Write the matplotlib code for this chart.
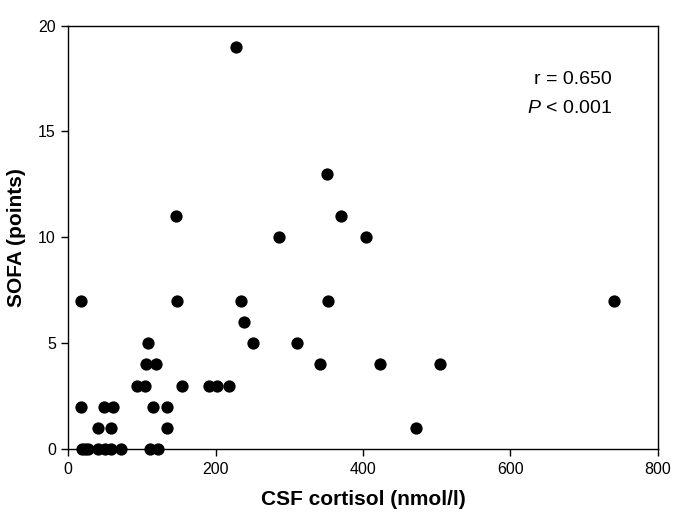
import matplotlib.pyplot as plt

plt.rcParams['font.family'] = ['Liberation Sans', 'DejaVu Sans']
plt.rcParams['mathtext.fontset'] = 'custom'
plt.rcParams['mathtext.it'] = 'Liberation Sans:italic'
plt.rcParams['mathtext.rm'] = 'Liberation Sans'

# CSF cortisol (nmol/l) vs SOFA score
cortisol = [18, 22, 27, 40, 50, 58, 72, 111, 122,
            40, 58, 134, 472,
            17, 48, 61, 115, 134,
            93, 104, 154, 191, 202, 218,
            105, 119, 341, 423, 505,
            108, 251, 311,
            239,
            17, 147, 234, 352, 741,
            286, 404,
            146, 370,
            351,
            227]
sofa = [0, 0, 0, 0, 0, 0, 0, 0, 0,
        1, 1, 1, 1,
        2, 2, 2, 2, 2,
        3, 3, 3, 3, 3, 3,
        4, 4, 4, 4, 4,
        5, 5, 5,
        6,
        7, 7, 7, 7, 7,
        10, 10,
        11, 11,
        13,
        19]

xticks = [0, 200, 400, 600, 800]
yticks = [0, 5, 10, 15, 20]

fig = plt.figure(figsize=(6.85, 5.12), dpi=100)
ax = fig.add_axes([0.0997, 0.123, 0.8605, 0.827])
ax.scatter(cortisol, sofa, s=78, color='black', clip_on=False, zorder=3, linewidths=0)

ax.set_xlim(0, 800)
ax.set_ylim(0, 20)
ax.set_xticks(xticks)
ax.set_yticks(yticks)
ax.tick_params(direction='out', length=5, width=1, labelsize=11.5, pad=4, top=False, right=False)
for sp in ax.spines.values():
    sp.set_linewidth(1)

ax.set_xlabel("CSF cortisol (nmol/l)", fontsize=15, fontweight='bold', labelpad=10)
ax.set_ylabel("SOFA (points)", fontsize=15, fontweight='bold', labelpad=9)

ax.text(738, 17.45, "r = 0.650", ha='right', va='center', fontsize=14)
ax.text(738, 16.1, r"$P$ < 0.001", ha='right', va='center', fontsize=14)

plt.savefig('out.png', dpi=100)
